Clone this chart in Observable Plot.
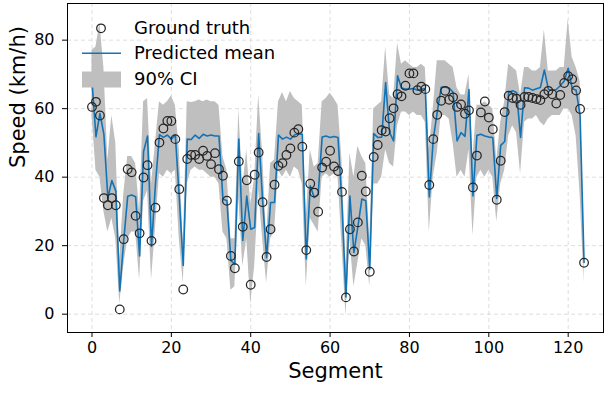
<!DOCTYPE html>
<html>
<head>
<meta charset="utf-8">
<script src="https://cdn.jsdelivr.net/npm/d3@7"></script>
<script src="https://cdn.jsdelivr.net/npm/@observablehq/plot@0.6"></script>
<style>
  html, body { margin: 0; padding: 0; background: white; }
  #wrap { position: relative; width: 605px; height: 393px; font-family: "DejaVu Sans", sans-serif; }
  #legend { position: absolute; left: 0; top: 0; pointer-events: none; }
</style>
</head>
<body>
<div id="wrap"></div>
<script>
// Ground truth speed per segment (km/h)
const truth = [60.5,62,58,33.9,31.8,33.9,31.8,1.4,21.9,42.3,41.4,28.7,23.6,39.9,43.5,21.4,31.1,50.1,54.2,56.4,
  56.4,51.1,36.5,7.2,45.3,46.5,46.5,45.3,47.7,46.2,43.8,47.0,42.3,40.4,33.1,17.0,13.4,44.6,25.5,39.1,
  8.6,40.7,47.2,32.7,16.7,24.8,37.8,43.3,44.1,46.5,48.4,53.0,54.0,48.9,18.7,38.1,35.5,29.9,42.8,44.5,
  47.7,43.1,41.8,35.7,4.9,24.8,18.3,26.8,40.4,35.8,12.4,45.9,49.4,53.7,53.3,57.2,60.1,64.2,63.6,66.7,
  70.3,70.3,65.4,66.4,65.7,37.7,51.1,58.2,62.3,65.2,62.6,63.3,60.5,61.2,58.5,59.5,37.0,46.3,58.9,62.1,
  57.4,54.0,33.4,44.8,59.0,63.8,63.1,62.9,61.1,63.4,63.4,63.1,62.8,62.5,64.2,65.2,64.2,61.5,64.0,67.5,
  69.5,68.6,65.3,59.9,15.0];
// Predicted mean
const mean = [68,51.8,58.6,52.5,34,39,36,6.8,21.6,34.4,34.8,34.3,17,47.5,52,19.8,38,52.4,51.6,52.3,
  51.1,52.3,34,14.2,51.1,51,52.3,51.3,52.5,52,52.3,52,52,33.6,33.1,15.6,14.6,51.1,21.5,34.5,
  24.8,25.3,52.7,33.1,16.5,32.6,32.6,52.3,51.1,51.7,51.1,52.3,52.7,52.5,16.1,37.5,34.1,35,51.7,52,
  51.6,51.9,51.6,32,5,34.5,18,25.5,33.6,33.1,13.1,52.7,51.6,51.7,67.6,53,50.6,69.6,66,65.7,
  65.7,65.9,65.4,65.7,65.8,34.2,51.1,59,66.2,66.3,66,64.8,50.6,53,51.9,65.6,34.5,52.2,52.5,52,
  51.7,51.6,33.8,49.3,50.4,64.7,65.2,64.7,51.6,66.1,66,65.4,65.8,66.2,71.3,65.7,65.3,65.6,66.7,68.1,
  71.8,65.9,65.4,58,15.1];
// 90% CI lower bound
const lo = [58,42,40,30,24,28,22,3,14,22,24,24,10,33,36,10,25,41,40,42,
  41,42,22,9,38,42,43,42,42,41,40,40,38,24,22,7,8,34,14,22,
  3,14,36,22,9,22,24,42,40,42,40,43,42,38,8,28,26,24,40,41,
  40,41,40,20,-0.5,22,8,15,22,20,8,38,38,40,48,44,43,55,59,59,
  58,59,58,58,56,24,40,47,58,58,57,50,40,42,40,48,23,40,42,40,
  42,40,27,38,42,52,55,53,41,56,57,57,58,56,55,57,58,58,58,60,
  60,58,52,35,9];
// 90% CI upper bound
const hi = [77,78,85,72,45,58,50,16,35,46,46,44,30,62,63,38,50,62,61,62,
  63.7,61,48,20,62,61.8,62,62.5,62,62.5,62,62,61,46,42,22,22,60,37,48,
  32,40,64,47,22,44,45,62,64.7,62,65,63,62,61,28,48,43,44,62,63,
  64.5,63,61,45,14,47,40,49,46,44,22,60,61,62,78,64,63,79,73,74,
  73,72,72,73,72,48,60,74,74,74,73,72,66,64,64,70,46,61,61,62,
  61,60,45,56,62,73,72,71,64,72,72,71,71,72,83,71,71,71,72,72,
  86,75,72,68,18];
const segment = d3.range(truth.length);
const xTicks = [0, 20, 40, 60, 80, 100, 120];
const yTicks = [0, 20, 40, 60, 80];
const legendLabels = ["Ground truth", "Predicted mean", "90% CI"];

const blue = "#1273b6";
const data = segment.map((s, i) => ({s, truth: truth[i], mean: mean[i], lo: lo[i], hi: hi[i]}));

const chart = Plot.plot({
  width: 605,
  height: 393,
  marginLeft: 67,
  marginRight: 2,
  marginTop: 3,
  marginBottom: 61,
  style: {fontFamily: "DejaVu Sans, sans-serif", fontSize: "16px", background: "white", color: "black"},
  x: {domain: [-6.17, 128.9], label: null},
  y: {domain: [-5.35, 90.7], label: null},
  marks: [
    Plot.gridX(xTicks, {stroke: "#d6d6d6", strokeOpacity: 1, strokeDasharray: "4,3", strokeWidth: 0.8}),
    Plot.gridY(yTicks, {stroke: "#d6d6d6", strokeOpacity: 1, strokeDasharray: "4,3", strokeWidth: 0.8}),
    Plot.areaY(data, {x: "s", y1: "lo", y2: "hi", fill: "#bfbfbf", fillOpacity: 1}),
    Plot.line(data, {x: "s", y: "mean", stroke: blue, strokeWidth: 1.6}),
    Plot.dot(data, {x: "s", y: "truth", r: 4.3, stroke: "#262626", strokeWidth: 1.25, fill: "none"}),
    Plot.axisX(xTicks, {tickSize: 5, tickPadding: 4, fontSize: 16, label: null}),
    Plot.axisY(yTicks, {tickSize: 5, tickPadding: 8, fontSize: 16, label: null}),
    Plot.text(["Segment"], {frameAnchor: "bottom", dy: 45, fontSize: 21}),
    Plot.text(["Speed (km/h)"], {frameAnchor: "left", rotate: -90, dx: -49, fontSize: 21}),
    Plot.frame({stroke: "black", strokeWidth: 1})
  ]
});

const wrap = document.getElementById("wrap");
wrap.appendChild(chart);

// Legend overlay (upper left, no frame)
const ns = "http://www.w3.org/2000/svg";
const lg = document.createElementNS(ns, "svg");
lg.setAttribute("id", "legend");
lg.setAttribute("width", 605);
lg.setAttribute("height", 393);
const iconY = [28.3, 53.3, 79.5];
const baseY = [33.5, 58.5, 85];
const mk = (tag, attrs) => { const e = document.createElementNS(ns, tag); for (const k in attrs) e.setAttribute(k, attrs[k]); lg.appendChild(e); return e; };
mk("circle", {cx: 101, cy: iconY[0], r: 4.3, fill: "none", stroke: "#262626", "stroke-width": 1.25});
mk("line", {x1: 82, x2: 121, y1: iconY[1], y2: iconY[1], stroke: blue, "stroke-width": 1.6});
mk("rect", {x: 82, y: iconY[2] - 8, width: 39, height: 16, fill: "#bfbfbf"});
legendLabels.forEach((t, i) => {
  const tx = mk("text", {x: 134, y: baseY[i], "font-size": 18, "font-family": "DejaVu Sans, sans-serif", fill: "black"});
  tx.textContent = t;
});
wrap.appendChild(lg);
</script>
</body>
</html>
